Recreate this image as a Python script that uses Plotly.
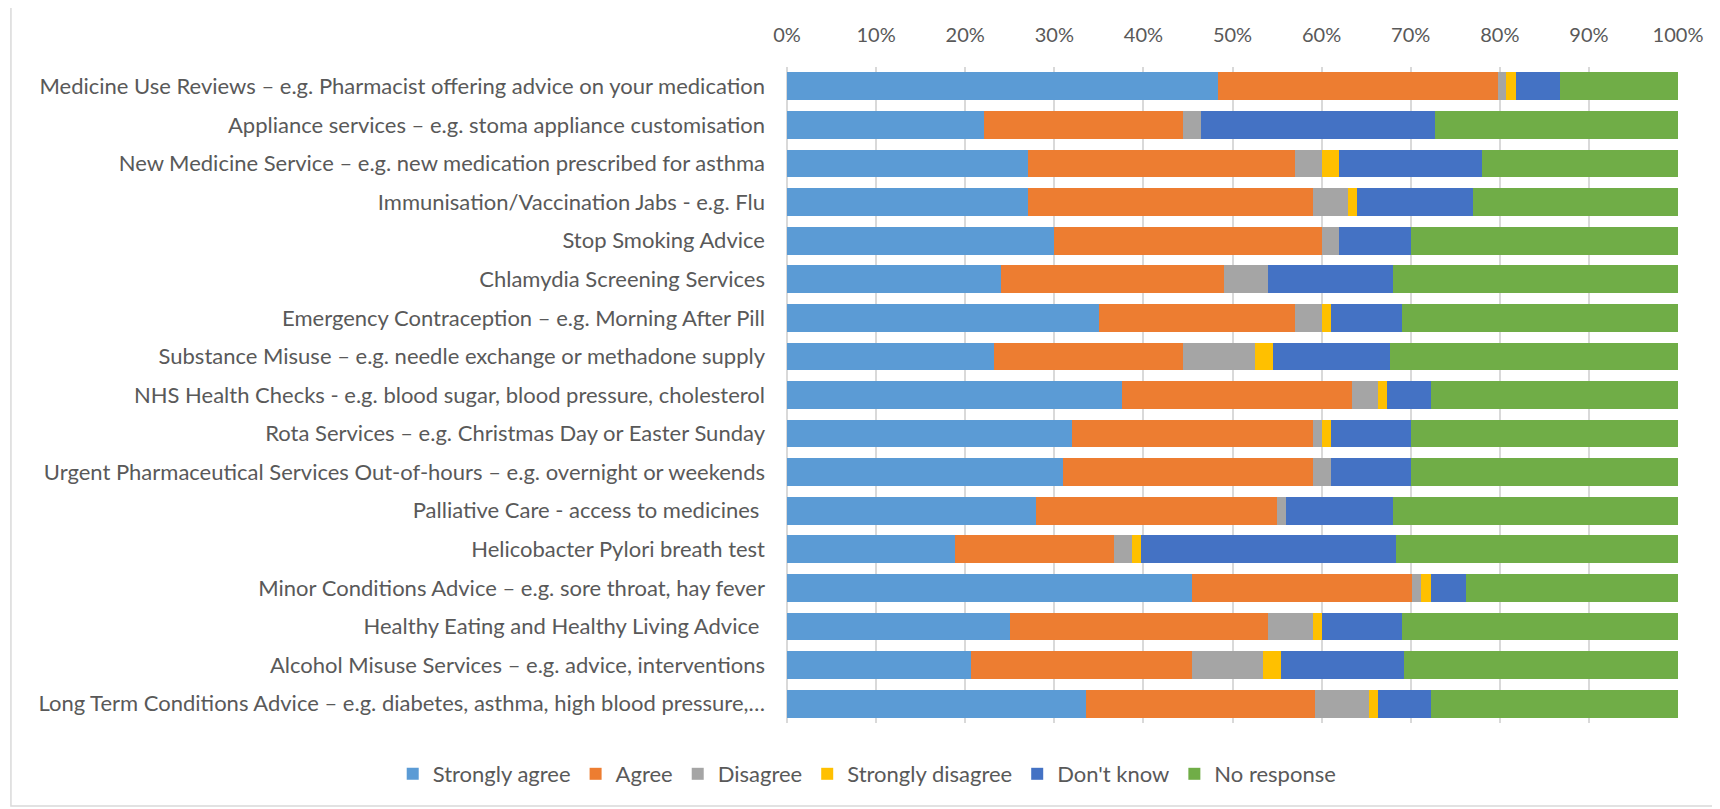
import plotly.graph_objects as go

categories = [
    "Medicine Use Reviews – e.g. Pharmacist offering advice on your medication",
    "Appliance services – e.g. stoma appliance customisation",
    "New Medicine Service – e.g. new medication prescribed for asthma",
    "Immunisation/Vaccination Jabs - e.g. Flu",
    "Stop Smoking Advice",
    "Chlamydia Screening Services",
    "Emergency Contraception – e.g. Morning After Pill",
    "Substance Misuse – e.g. needle exchange or methadone supply",
    "NHS Health Checks - e.g. blood sugar, blood pressure, cholesterol",
    "Rota Services – e.g. Christmas Day or Easter Sunday",
    "Urgent Pharmaceutical Services Out-of-hours – e.g. overnight or weekends",
    "Palliative Care - access to medicines\u00a0",
    "Helicobacter Pylori breath test",
    "Minor Conditions Advice – e.g. sore throat, hay fever",
    "Healthy Eating and Healthy Living Advice\u00a0",
    "Alcohol Misuse Services – e.g. advice, interventions",
    "Long Term Conditions Advice – e.g. diabetes, asthma, high blood pressure,…",
]

strongly_agree    = [48.4, 22.1, 27.0, 27.0, 30.0, 24.0, 35.0, 23.2, 37.6, 32.0, 31.0, 28.0, 18.8, 45.4, 25.0, 20.7, 33.6]
agree             = [31.4, 22.3, 30.0, 32.0, 30.0, 25.0, 22.0, 21.2, 25.8, 27.0, 28.0, 27.0, 17.9, 24.8, 29.0, 24.7, 25.7]
disagree          = [0.9, 2.1, 3.0, 4.0, 2.0, 5.0, 3.0, 8.1, 2.9, 1.0, 2.0, 1.0, 2.0, 1.0, 5.0, 8.0, 6.0]
strongly_disagree = [1.1, 0.0, 2.0, 1.0, 0.0, 0.0, 1.0, 2.0, 1.0, 1.0, 0.0, 0.0, 1.0, 1.1, 1.0, 2.0, 1.0]
dont_know         = [5.0, 26.2, 16.0, 13.0, 8.0, 14.0, 8.0, 13.2, 5.0, 9.0, 9.0, 12.0, 28.7, 3.9, 9.0, 13.8, 6.0]
no_response       = [13.2, 27.3, 22.0, 23.0, 30.0, 32.0, 31.0, 32.3, 27.7, 30.0, 30.0, 32.0, 31.6, 23.8, 31.0, 30.8, 27.7]

series_names = ["Strongly agree", "Agree", "Disagree", "Strongly disagree", "Don't know", "No response"]
series_values = [strongly_agree, agree, disagree, strongly_disagree, dont_know, no_response]
series_colors = ["#5B9BD5", "#ED7D31", "#A5A5A5", "#FFC000", "#4472C4", "#70AD47"]

tick_vals = list(range(0, 101, 10))
tick_text = [f"{v}%" for v in tick_vals]

FONT = "Lato"
TXT = "#595959"

fig = go.Figure()
for name, vals, col in zip(series_names, series_values, series_colors):
    fig.add_trace(go.Bar(
        y=categories, x=vals, name=name, orientation="h",
        marker=dict(color=col, line=dict(width=0)),
    ))

# page offset from default body margin
OFF = 8
# plot area geometry in reference pixels
L, R, T, B = 786.5, 1678, 67, 723
W, H = 1720 - OFF, 809 - OFF
Lf, Rf, Tf, Bf = L - OFF, R - OFF, T - OFF, B - OFF
pw, ph = Rf - Lf, Bf - Tf

def px(x):
    return (x - OFF - Lf) / pw

def py(y):
    return (Bf - (y - OFF)) / ph

fig.update_layout(
    width=W, height=H,
    barmode="stack", bargap=0.28,
    paper_bgcolor="white", plot_bgcolor="white",
    margin=dict(l=Lf, r=W - Rf, t=Tf, b=H - Bf, pad=0, autoexpand=False),
    font=dict(family=FONT, size=22, color=TXT),
    showlegend=True,
    legend=dict(
        orientation="h", x=px(398 - 6), y=py(774),
        xanchor="left", yanchor="middle",
        font=dict(family=FONT, size=22, color=TXT), itemwidth=30,
        traceorder="normal", bgcolor="rgba(0,0,0,0)",
    ),
    xaxis=dict(
        side="top", range=[0, 100], tickvals=tick_vals, ticktext=tick_text,
        showgrid=True, gridcolor="#D9D9D9", gridwidth=2,
        zeroline=False, showline=False, ticks="", ticklabelstandoff=20,
        tickfont=dict(family=FONT, size=20, color=TXT), fixedrange=True,
        automargin=False,
    ),
    yaxis=dict(
        autorange="reversed", showgrid=False, zeroline=False, showline=False,
        ticks="", ticklabelstandoff=21, automargin=False,
        tickfont=dict(family=FONT, size=22, color=TXT), fixedrange=True,
    ),
    shapes=[
        dict(type="rect", xref="paper", yref="paper",
             x0=px(10), x1=px(1740), y0=py(806), y1=py(6),
             line=dict(color="#D9D9D9", width=1.5), fillcolor="rgba(0,0,0,0)", layer="below"),
        dict(type="line", xref="paper", yref="paper",
             x0=0, x1=0, y0=0, y1=1, line=dict(color="#D9D9D9", width=2), layer="below"),
    ],
)

fig.write_html("out.html")
